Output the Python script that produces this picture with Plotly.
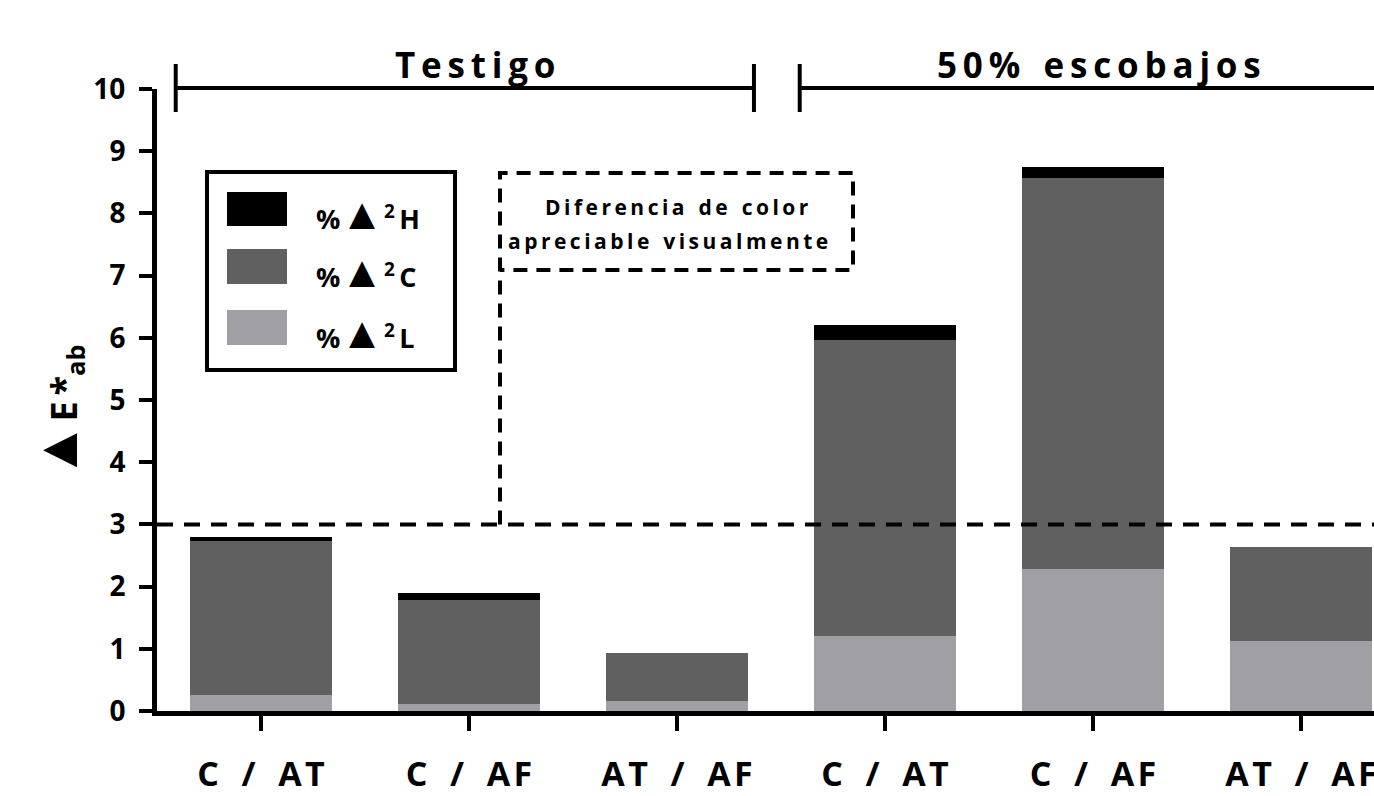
import plotly.graph_objects as go

# ---------------- data ----------------
group_names = ["Testigo", "50% escobajos"]
pair_labels = ["C / AT", "C / AF", "AT / AF", "C / AT", "C / AF", "AT / AF"]
group_of_bar = [0, 0, 0, 1, 1, 1]
pct_dL2 = [0.26, 0.12, 0.16, 1.21, 2.28, 1.13]   # %Δ²L  (light grey, bottom)
pct_dC2 = [2.48, 1.67, 0.78, 4.75, 6.29, 1.51]   # %Δ²C  (dark grey, middle)
pct_dH2 = [0.05, 0.10, 0.00, 0.24, 0.18, 0.00]   # %Δ²H  (black, top)
threshold = 3
y_ticks = list(range(0, 11))

# ---------------- style ----------------
FONT = "Open Sans"
COL_L = "#a09fa4"
COL_C = "#606060"
COL_H = "#000000"

W, H = 1374, 796
PL, PR, PT, PB = 157, 1374, 89, 711          # plot area in pixels
X0PX, DXPX = 261, 208                         # first category centre, spacing
YPX_PER = (PB - PT) / 10.0


def X(px):
    return (px - X0PX) / DXPX


def Y(py):
    return (PB - py) / YPX_PER


def PX(px):
    return (px - PL) / (PR - PL)


def PY(py):
    return (PB - py) / (PB - PT)


def spaced(text, letter="\u2009", word="\u2002\u2009"):
    words = text.split(" ")
    return word.join(letter.join(list(w)) for w in words)


xpos = list(range(len(pair_labels)))
ticktext = [spaced(t, letter="\u200a", word="\u2002\u2009") for t in pair_labels]

fig = go.Figure()
for name, vals, col in [("%Δ²L", pct_dL2, COL_L), ("%Δ²C", pct_dC2, COL_C), ("%Δ²H", pct_dH2, COL_H)]:
    fig.add_trace(go.Bar(x=xpos, y=vals, name=name, width=0.678,
                         marker=dict(color=col, line=dict(width=0)),
                         showlegend=False))

shapes = []
annotations = []

# threshold dashed line
shapes.append(dict(type="line", xref="paper", yref="y", x0=0, x1=1,
                   y0=threshold, y1=threshold,
                   line=dict(color="black", width=4, dash="16px,11px"), layer="above"))

# dashed box + left leg down to threshold
bx0, bx1 = X(500), X(853)
by_top, by_bot = Y(173), Y(270)
shapes.append(dict(type="path", xref="x", yref="y",
                   path=f"M {bx0},{threshold} L {bx0},{by_top} L {bx1},{by_top} L {bx1},{by_bot} L {bx0},{by_bot}",
                   line=dict(color="black", width=4, dash="14px,9px"), layer="above"))
annotations.append(dict(xref="x", yref="y", x=(bx0 + bx1) / 2, y=Y(207),
                        text=spaced("Diferencia de color"), showarrow=False,
                        font=dict(family=FONT, size=21, color="black", weight="bold"),
                        xanchor="center", yanchor="middle"))
annotations.append(dict(xref="x", yref="y", x=(bx0 + bx1) / 2 - 0.04, y=Y(241),
                        text=spaced("apreciable visualmente"), showarrow=False,
                        font=dict(family=FONT, size=21, color="black", weight="bold"),
                        xanchor="center", yanchor="middle"))

# group brackets on top
for gi, gname in enumerate(group_names):
    members = [i for i, g in enumerate(group_of_bar) if g == gi]
    c = sum(members) / len(members)
    left, right = c - 1.41, c + 1.37
    shapes.append(dict(type="line", xref="x", yref="paper", x0=left, x1=right,
                       y0=PY(88), y1=PY(88), line=dict(color="black", width=4)))
    for xe in (left, right):
        shapes.append(dict(type="line", xref="x", yref="paper", x0=xe, x1=xe,
                           y0=PY(64), y1=PY(112), line=dict(color="black", width=4)))
    annotations.append(dict(xref="x", yref="paper", x=c + 0.03, y=PY(90),
                            text=spaced(gname), showarrow=False,
                            font=dict(family=FONT, size=35, color="black", weight="bold"),
                            xanchor="center", yanchor="bottom"))

# manual legend
shapes.append(dict(type="rect", xref="x", yref="y", x0=X(207), x1=X(455),
                   y0=Y(172), y1=Y(370), line=dict(color="black", width=4),
                   fillcolor="white", layer="above"))
legend_rows = [("H", COL_H, 192, 226), ("C", COL_C, 249, 284), ("L", COL_L, 310, 345)]
for letter, col, t, b in legend_rows:
    shapes.append(dict(type="rect", xref="x", yref="y", x0=X(227), x1=X(287),
                       y0=Y(t), y1=Y(b), line=dict(width=0), fillcolor=col, layer="above"))
    annotations.append(dict(xref="x", yref="y", x=X(314), y=Y((t + b) / 2 + 3),
                            text=f'%<span style="font-size:44px">▲</span><sup>2</sup>\u2009{letter}',
                            showarrow=False,
                            font=dict(family=FONT, size=27, color="black", weight="bold"),
                            xanchor="left", yanchor="middle"))

# y-axis title
annotations.append(dict(xref="paper", yref="paper", x=PX(54), y=PY(412),
                        text='<span style="font-size:58px">▲</span>E\u2009*<sub>ab</sub>',
                        textangle=-90, showarrow=False,
                        font=dict(family=FONT, size=36, color="black", weight="bold"),
                        xanchor="center", yanchor="middle"))

fig.update_layout(
    width=W, height=H,
    margin=dict(l=PL, r=W - PR, t=PT, b=H - PB, autoexpand=False),
    paper_bgcolor="white", plot_bgcolor="white",
    barmode="stack", bargap=0,
    showlegend=False,
    shapes=shapes, annotations=annotations,
    xaxis=dict(range=[X(PL), X(PR)], tickmode="array", tickvals=xpos, ticktext=ticktext,
               showline=True, linecolor="black", linewidth=5,
               ticks="outside", ticklen=15, tickwidth=4, tickcolor="black",
               showgrid=False, zeroline=False, automargin=False,
               ticklabelstandoff=14, ticklabeloverflow="allow",
               tickfont=dict(family=FONT, size=34, color="black", weight="bold")),
    yaxis=dict(range=[0, 10], tickmode="array", tickvals=y_ticks,
               showline=True, linecolor="black", linewidth=5,
               ticks="outside", ticklen=13, tickwidth=4, tickcolor="black",
               showgrid=False, zeroline=False, automargin=False,
               ticklabelstandoff=8,
               tickfont=dict(family=FONT, size=28, color="black", weight="bold")),
)

fig.write_html("out.html", config={"displayModeBar": False},
               post_script="document.body.style.margin='0';document.body.style.overflow='hidden';")
